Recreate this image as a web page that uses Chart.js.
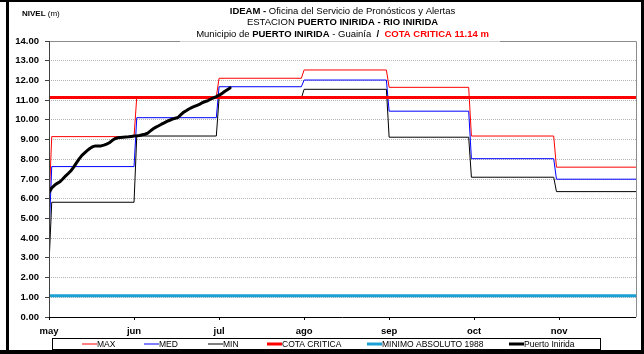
<!DOCTYPE html>
<html>
<head>
<meta charset="utf-8">
<script src="https://cdn.jsdelivr.net/npm/chart.js@4.4.0/dist/chart.umd.min.js"></script>
<style>
  html, body { margin: 0; padding: 0; background: #fff; }
  canvas { display: block; }
</style>
</head>
<body>
<canvas id="nivelChart" width="644" height="354"></canvas>
<script>
const monthLabels = ['may', 'jun', 'jul', 'ago', 'sep', 'oct', 'nov'];
const monthStartDays = [0, 31, 61, 92, 123, 153, 184];
const lastDay = 214;
const tickDays = [0, 31, 62, 93, 124, 155, 186];

// monthly levels (m), may .. nov
const maxLevels = [9.15, 11.17, 12.11, 12.53, 11.65, 9.18, 7.60];
const medLevels = [7.63, 10.11, 11.68, 12.02, 10.44, 8.03, 6.99];
const minLevels = [5.82, 9.18, 11.10, 11.55, 9.12, 7.09, 6.36];
// level at the end of april: max, med, min
const aprilLevels = [5.80, 4.10, 2.70];

const cotaCritica = 11.14;
const minimoAbsoluto = 1.08;

// daily readings from 1 may
const puertoInirida = [
  6.32, 6.55, 6.68, 6.78, 6.86, 7.00, 7.15, 7.28, 7.42, 7.60,
  7.82, 8.02, 8.20, 8.33, 8.45, 8.56, 8.64, 8.68, 8.67, 8.68,
  8.72, 8.77, 8.84, 8.95, 9.04, 9.09, 9.11, 9.12, 9.13, 9.14,
  9.16, 9.18, 9.19, 9.21, 9.24, 9.27, 9.33, 9.44, 9.55, 9.63,
  9.70, 9.78, 9.85, 9.92, 9.98, 10.04, 10.08, 10.12, 10.25, 10.38,
  10.46, 10.55, 10.62, 10.68, 10.74, 10.80, 10.88, 10.93, 10.98, 11.06,
  11.12, 11.18, 11.25, 11.33, 11.44, 11.53, 11.62
];

const FONT = '"Liberation Sans", Arial, sans-serif';

// month steps: each level holds from the day after the month starts to the next month start
stepPoints = (levels, startLevel) => {
  let pts = [{ x: 0, y: startLevel }];
  for (let i = 0; i < levels.length; i++) {
    let end = i + 1 < monthStartDays.length ? monthStartDays[i + 1] : lastDay;
    pts.push({ x: monthStartDays[i] + 1, y: levels[i] });
    pts.push({ x: end, y: levels[i] });
  }
  return pts;
}

flatLine = (v) => [{ x: 0, y: v }, { x: lastDay, y: v }];

let dailyPoints = puertoInirida.map((v, i) => ({ x: i, y: v }));

const chartBackground = {
  id: 'chartBackground',
  beforeDraw(chart) {
    let c = chart.ctx;
    c.save();
    c.fillStyle = '#ffffff';
    c.fillRect(0, 0, chart.width, chart.height);
    c.restore();
  }
};

const plotFrame = {
  id: 'plotFrame',
  afterDatasetsDraw(chart) {
    let c = chart.ctx;
    let a = chart.chartArea;
    c.save();
    // top and right border of the plot
    c.strokeStyle = '#8c8c8c';
    c.lineWidth = 1;
    c.beginPath();
    c.moveTo(a.left, a.top + 0.5);
    c.lineTo(a.right + 0.5, a.top + 0.5);
    c.lineTo(a.right + 0.5, a.bottom);
    c.stroke();
    // title box edge over the top border
    c.strokeStyle = '#d4d4d4';
    c.beginPath();
    c.moveTo(180, a.top + 0.5);
    c.lineTo(500, a.top + 0.5);
    c.stroke();
    // axes
    c.strokeStyle = '#404040';
    c.beginPath();
    c.moveTo(a.left + 0.5, a.top);
    c.lineTo(a.left + 0.5, a.bottom);
    c.stroke();
    c.strokeStyle = '#000000';
    c.beginPath();
    c.moveTo(a.left, a.bottom + 0.5);
    c.lineTo(a.right, a.bottom + 0.5);
    c.stroke();
    c.restore();
  }
};

const titleLines = [
  [['IDEAM - ', true], ['Oficina del Servicio de Pronósticos y Alertas', false]],
  [['ESTACION ', false], ['PUERTO INIRIDA - RIO INIRIDA', true]],
  [['Municipio de ', false], ['PUERTO INIRIDA', true], [' - Guainía  ', false], ['/  ', true],
   ['COTA CRITICA ' + cotaCritica.toFixed(2) + ' m', true, '#ff0000']]
];

const headerText = {
  id: 'headerText',
  afterDraw(chart) {
    let c = chart.ctx;
    let a = chart.chartArea;
    let cx = (a.left + a.right) / 2;
    c.save();
    c.textBaseline = 'middle';
    c.textAlign = 'left';
    titleLines.forEach((segs, row) => {
      let y = 11 + row * 11.5;
      let total = 0;
      segs.forEach(s => {
        c.font = (s[1] ? 'bold ' : '') + '9.5px ' + FONT;
        total += c.measureText(s[0]).width;
      });
      let x = cx - total / 2;
      segs.forEach(s => {
        c.font = (s[1] ? 'bold ' : '') + '9.5px ' + FONT;
        c.fillStyle = s[2] || '#000000';
        c.fillText(s[0], x, y);
        x += c.measureText(s[0]).width;
      });
    });
    // axis caption
    c.font = 'bold 8px ' + FONT;
    c.fillStyle = '#000000';
    c.fillText('NIVEL', 22, 13.5);
    let w = c.measureText('NIVEL ').width;
    c.font = '8px ' + FONT;
    c.fillText('(m)', 22 + w, 13.5);
    c.restore();
  }
};

const legendX = [82, 144, 208, 267, 367, 509];

const boxLegend = {
  id: 'boxLegend',
  afterDraw(chart) {
    let c = chart.ctx;
    c.save();
    c.strokeStyle = '#000000';
    c.lineWidth = 1;
    c.strokeRect(52.5, 338.5, 548, 11);
    c.font = '8.5px ' + FONT;
    c.textBaseline = 'middle';
    c.textAlign = 'left';
    chart.data.datasets.forEach((ds, i) => {
      let x = legendX[i];
      c.strokeStyle = ds.borderColor;
      c.lineWidth = ds.borderWidth;
      c.beginPath();
      c.moveTo(x, 344);
      c.lineTo(x + 15, 344);
      c.stroke();
      c.fillStyle = '#000000';
      c.fillText(ds.label, x + 15, 344.5);
    });
    // outer frame
    c.fillStyle = '#000000';
    c.fillRect(0, 0, 644, 2);
    c.fillRect(6, 0, 3, 354);
    c.fillRect(641, 0, 3, 354);
    c.fillRect(0, 350, 644, 4);
    c.restore();
  }
};

let ctx = document.getElementById('nivelChart').getContext('2d');
let nivelChart = new Chart(ctx, {
  type: 'line',
  data: {
    datasets: [
      { label: 'MAX', data: stepPoints(maxLevels, aprilLevels[0]), borderColor: '#ff0000', borderWidth: 1, order: 6 },
      { label: 'MED', data: stepPoints(medLevels, aprilLevels[1]), borderColor: '#0000ff', borderWidth: 1, order: 5 },
      { label: 'MIN', data: stepPoints(minLevels, aprilLevels[2]), borderColor: '#000000', borderWidth: 1, order: 4 },
      { label: 'COTA CRITICA', data: flatLine(cotaCritica), borderColor: '#ff0000', borderWidth: 3, order: 2 },
      { label: 'MINIMO ABSOLUTO 1988', data: flatLine(minimoAbsoluto), borderColor: '#1aa0d2', borderWidth: 3, order: 3 },
      { label: 'Puerto Inirida', data: dailyPoints, borderColor: '#000000', borderWidth: 3, order: 1,
        borderJoinStyle: 'round', borderCapStyle: 'round' }
    ]
  },
  options: {
    responsive: false,
    animation: false,
    devicePixelRatio: 1,
    layout: { padding: { left: 0, right: 8, top: 41, bottom: 0 } },
    elements: {
      point: { radius: 0 },
      line: { tension: 0, fill: false }
    },
    scales: {
      x: {
        type: 'linear',
        min: 0,
        max: lastDay,
        afterFit: (scale) => { scale.height = 37; },
        afterBuildTicks: (scale) => { scale.ticks = tickDays.map(v => ({ value: v })); },
        ticks: {
          autoSkip: false,
          maxRotation: 0,
          padding: 6,
          color: '#000000',
          font: { family: FONT, size: 9.5, weight: 'bold' },
          callback: (v, i) => monthLabels[i]
        },
        grid: { drawOnChartArea: false, drawTicks: true, tickLength: 3, tickColor: '#000000' },
        border: { display: false }
      },
      y: {
        min: 0,
        max: 14,
        afterFit: (scale) => { scale.width = 49; },
        ticks: {
          stepSize: 1,
          padding: 6,
          color: '#000000',
          font: { family: FONT, size: 9.5, weight: 'bold' },
          callback: (v) => v.toFixed(2)
        },
        grid: { color: '#b4b4b4', lineWidth: 1, tickLength: 4, tickColor: '#404040' },
        border: { display: false, dash: [1, 1] }
      }
    },
    plugins: {
      legend: { display: false },
      tooltip: { enabled: false }
    }
  },
  plugins: [chartBackground, plotFrame, headerText, boxLegend]
});
</script>
</body>
</html>
